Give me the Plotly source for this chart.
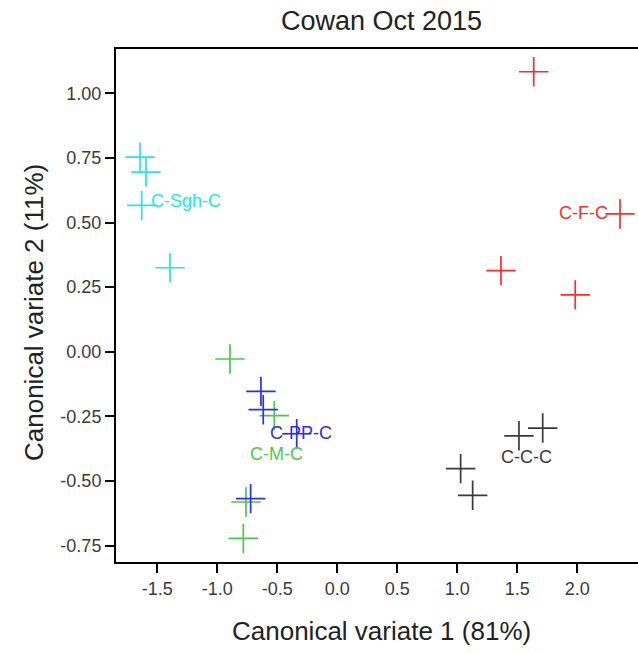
import plotly.graph_objects as go
import numpy as np

# Group data (canonical variate scores)
cyan_x = [-1.644, -1.594, -1.630, -1.394]
cyan_y = [0.753, 0.695, 0.566, 0.325]
red_x = [1.637, 2.356, 1.364, 1.983]
red_y = [1.083, 0.533, 0.314, 0.220]
black_x = [1.514, 1.712, 1.028, 1.128]
black_y = [-0.325, -0.295, -0.452, -0.555]
green_x = [-0.894, -0.525, -0.761, -0.783]
green_y = [-0.028, -0.247, -0.581, -0.722]
blue_x = [-0.636, -0.617, -0.338, -0.722]
blue_y = [-0.153, -0.224, -0.317, -0.568]

group_names = ["C-Sgh-C", "C-F-C", "C-C-C", "C-M-C", "C-PP-C"]

x_tickvals = [-1.5, -1.0, -0.5, 0.0, 0.5, 1.0, 1.5, 2.0]
x_ticktext = ["-1.5", "-1.0", "-0.5", "0.0", "0.5", "1.0", "1.5", "2.0"]
y_tickvals = [-0.75, -0.5, -0.25, 0.0, 0.25, 0.5, 0.75, 1.0]
y_ticktext = ["-0.75", "-0.50", "-0.25", "0.00", "0.25", "0.50", "0.75", "1.00"]

groups = [
    (cyan_x, cyan_y, "#22E6E6"),
    (red_x, red_y, "#FF2A2A"),
    (black_x, black_y, "#3A3A3A"),
    (green_x, green_y, "#4CC84C"),
    (blue_x, blue_y, "#2E2EF0"),
]

fig = go.Figure()
annotations = []
for (gx, gy, col), name in zip(groups, group_names):
    fig.add_trace(go.Scatter(
        x=gx, y=gy, mode="markers", name=name,
        marker=dict(symbol="cross-thin-open", size=21, color=col,
                    line=dict(color=col, width=1.7)),
        showlegend=False,
    ))
    annotations.append(dict(
        x=float(np.mean(gx)), y=float(np.mean(gy)), xref="x", yref="y",
        text=name, showarrow=False, xanchor="left", yanchor="middle",
        font=dict(family="Liberation Sans, Arial", size=18, color=col),
    ))

W, H = 638, 653
L, R, T, B = 116, 0, 49, 91
pw = W - L - R
ph = H - T - B

annotations.append(dict(
    text="Cowan Oct 2015", xref="paper", yref="paper",
    x=(381 - L) / pw, y=1 + (T - 21) / ph, showarrow=False,
    xanchor="center", yanchor="middle",
    font=dict(family="Liberation Sans, Arial", size=27, color="#222222"),
))
annotations.append(dict(
    text="Canonical variate 1 (81%)", xref="paper", yref="paper",
    x=(381.5 - L) / pw, y=-(631 - (H - B)) / ph, showarrow=False,
    xanchor="center", yanchor="middle",
    font=dict(family="Liberation Sans, Arial", size=26, color="#222222"),
))
annotations.append(dict(
    text="Canonical variate 2 (11%)", xref="paper", yref="paper",
    x=(34 - L) / pw, y=1 - (313 - T) / ph, showarrow=False, textangle=-90,
    xanchor="center", yanchor="middle",
    font=dict(family="Liberation Sans, Arial", size=26, color="#222222"),
))

fig.update_layout(
    width=W, height=H,
    margin=dict(l=L, r=R, t=T, b=B, pad=0),
    paper_bgcolor="white", plot_bgcolor="white",
    annotations=annotations,
    font=dict(family="Liberation Sans, Arial"),
)
fig.update_xaxes(
    range=[-1.844, 2.506], showgrid=False, zeroline=False,
    tickvals=x_tickvals, ticktext=x_ticktext,
    ticks="outside", ticklen=9, tickwidth=2, tickcolor="black",
    showline=True, linecolor="black", linewidth=2, mirror=True,
    tickfont=dict(size=18, color="#3a3a3a"),
)
fig.update_yaxes(
    range=[-0.813, 1.171], showgrid=False, zeroline=False,
    tickvals=y_tickvals, ticktext=y_ticktext,
    ticks="outside", ticklen=9, tickwidth=2, tickcolor="black",
    showline=True, linecolor="black", linewidth=2, mirror=False,
    tickfont=dict(size=18, color="#3a3a3a"),
)

fig.write_html("out.html")
